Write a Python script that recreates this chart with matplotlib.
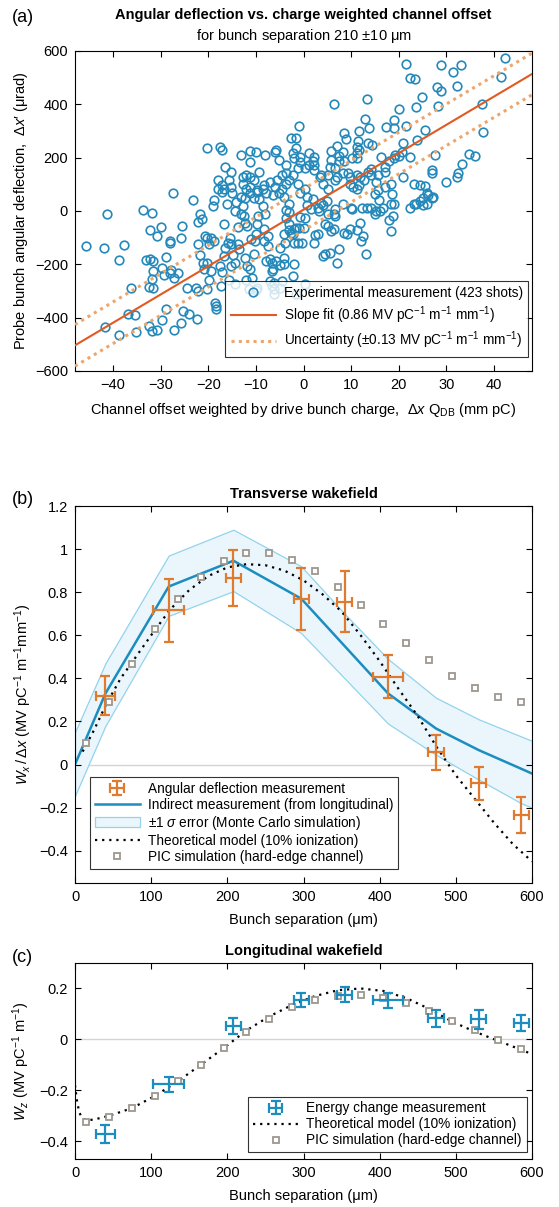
import numpy as np
import matplotlib.pyplot as plt
from matplotlib.ticker import FuncFormatter

plt.rcParams['font.family'] = ['Liberation Sans', 'DejaVu Sans']
plt.rcParams['mathtext.fontset'] = 'custom'
plt.rcParams['mathtext.rm'] = 'Liberation Sans'
plt.rcParams['mathtext.it'] = 'Liberation Sans:italic'
plt.rcParams['mathtext.bf'] = 'Liberation Sans:bold'
plt.rcParams['axes.unicode_minus'] = True

# ---------------- panel (a): scatter ----------------
scat_x = np.array([
    42.3, 41.5, 37.4, 37.8, 28.8, 33.1, 31.4, 32.3, 28.8, 28.1, 28.2, 24.8, 23.7, 25.5, 23.9, 22.4,
    23.4, 21.5, 21.5, 22.4, 20.9, 20.0, 19.1, 19.1, 17.4, 13.3, 13.0, 13.8, 11.6, 13.5, 14.3, 11.4,
    11.2, 6.4, -0.9, 8.6, 9.0, 27.7, 29.9, 32.2, 32.5, 33.4, 34.8, 36.1, 26.9, 27.0, 23.2, 24.4,
    25.5, 25.9, 26.2, 27.3, 25.1, 23.6, 20.6, 19.2, 20.0, 19.1, 17.9, 16.2, 17.2, 17.2, 15.7, 14.2,
    14.2, 15.3, 18.3, 17.2, 20.9, 18.6, 15.7, 13.5, 12.7, 11.9, 11.2, 11.6, 10.5, 10.1, 11.2, 11.2,
    11.6, 8.2, 8.6, 7.5, 7.5, 7.1, 5.8, 5.8, 5.6, 6.7, 5.2, 6.7, 7.1, 8.2, 9.4, 9.7,
    9.7, 11.2, 5.2, 4.1, 3.7, 3.4, 2.2, 2.2, 1.9, 2.2, 1.1, 1.1, 0.4, -0.7, -0.7, -2.1,
    -2.2, -1.1, -2.2, -3.7, -3.7, -5.2, -6.0, -2.6, -1.5, -1.5, -3.0, -1.1, -4.5, -5.6, -7.1, -6.0,
    -4.5, -5.2, -4.1, -3.7, -0.7, 0.4, 0.7, -9.3, -10.5, -11.2, -12.0, -12.7, -12.7, -11.2, -12.0, -11.2,
    -9.7, -8.6, -8.2, -7.9, -6.4, -10.5, -13.1, -14.2, -12.3, -9.9, -8.1, -5.8, -11.2, -11.2, -9.7, -18.0,
    -17.2, -18.0, -16.8, -15.7, -15.3, -16.5, -17.6, -17.1, -20.3, -13.1, -15.3, -15.0, -17.2, -18.7, -23.2, -27.5,
    -45.6, -42.0, -41.3, -41.7, -38.7, -37.7, -36.2, -36.8, -35.3, -35.1, -38.7, -33.8, -31.8, -32.2, -30.8, -29.9,
    -33.1, -32.2, -31.6, -31.6, -31.8, -32.4, -31.6, -32.5, -31.8, -30.8, -29.8, -29.3, -28.8, -28.1, -28.1, -27.8,
    -28.1, -27.3, -28.8, -29.8, -27.1, -25.8, -25.6, -26.3, -25.4, -24.0, -25.8, -24.5, -22.4, -22.1, -21.7, -21.3,
    -22.1, -21.7, -21.2, -21.0, -22.1, -22.6, -20.6, -20.2, -19.4, -19.8, -18.8, -20.2, -19.4, -19.8, -20.2, -19.1,
    -18.5, -18.3, -18.3, -17.3, -17.2, -17.5, -16.8, -16.8, -16.1, -16.5, -15.9, -15.4, -15.2, -15.7, -14.4, -15.2,
    -14.3, -14.9, -13.6, -13.8, -13.8, -14.4, -13.2, -12.7, -12.5, -12.3, -11.8, -12.3, -11.9, -11.2, -10.8, -11.4,
    -12.1, -10.3, -10.2, -11.0, -10.0, -9.7, -9.5, -8.6, -9.3, -8.1, -8.2, -7.5, -7.5, -8.4, -7.9, -7.1,
    -6.7, -6.4, -5.8, -6.7, -7.1, -6.1, -6.7, -6.1, -9.7, -9.9, -6.1, -4.9, -4.5, -4.0, -4.9, -4.1,
    -4.9, -3.9, -4.1, -3.0, -2.6, -2.2, -1.9, -1.5, -0.9, -3.1, -3.6, -3.1, -3.7, -3.0, -1.9, -1.1,
    -0.4, 0.0, -0.7, 0.4, 0.4, -2.2, -2.1, -1.5, 2.2, 3.0, 2.5, 0.7, 1.5, 1.9, 3.0, 3.2,
    3.7, 4.1, 4.9, 5.1, 6.4, 6.7, 4.5, 5.2, 6.4, 5.8, 6.7, 4.1, 4.6, 5.6, 7.1, 7.5,
    8.6, 9.1, 9.7, 10.1, 9.9, 8.2, 11.2, 12.0, 12.6, 13.1, 11.9, 12.3, 13.3, 14.2, 15.0, 15.3,
    16.1, 16.8, 18.0, 18.7, 18.3, 15.0, 15.9, 18.3, 19.1, 22.4, 23.2, 24.4, 25.2, 25.9, 26.9,
])
scat_y = np.array([
    575, 502, 401, 296, 546, 547, 521, 468, 449, 464, 395, 428, 391, 304, 267, 499,
    495, 553, 317, 204, 254, 382, 342, 311, 316, 421, 345, 313, 300, 254, 248, 263,
    241, 401, 320, 292, 269, 211, 109, 128, 141, 176, 213, 208, 144, 153, 103, 97,
    94, 69, 59, 52, 47, 28, 223, 211, 208, 200, 188, 204, 166, 147, 135, 157,
    135, 109, 103, 91, 126, 63, 80, 147, 116, 128, 135, 99, 91, 198, 198, 216,
    229, 222, 187, 187, 207, 245, 225, 191, 166, 160, 135, 116, 126, 142, 142, 128,
    103, 84, 84, 103, 135, 128, 153, 172, 189, 204, 216, 172, 160, 182, 204, 198,
    216, 163, 135, 142, 172, 191, 222, 273, 273, 235, 116, 103, 135, 116, 109, 91,
    84, 66, 53, 103, 66, 84, 53, 147, 116, 128, 135, 128, 103, 91, 84, 66,
    72, 84, 97, 66, 60, 47, 53, 34, 47, 222, 210, 229, 226, 185, 78, 116,
    97, 84, 82, 116, 147, 166, 241, 229, 235, 210, 91, 66, 72, 41, 41, 69,
    -131, -137, -12, -434, -185, -127, -287, -387, -391, -454, -465, 3, -6, -72, -94, -60,
    -184, -179, -187, -225, -256, -285, -290, -431, -450, -446, -215, -240, -172, -112, -119, -222,
    -231, -250, -369, -409, -446, -102, -56, -231, -375, -387, -419, -287, -406, -40, -12, -31,
    -125, -165, -194, -219, -300, -287, -94, -100, -100, -125, -112, -194, -225, -259, -294, 19,
    -344, -356, -369, -281, -227, -206, -169, -50, 27, -137, -119, -100, -125, -260, -275, -206,
    -194, -166, -144, -125, -59, 0, -12, 19, -19, -44, -56, -178, -206, -219, -250, -291,
    -260, -163, -112, -106, -87, -50, -19, 19, 44, -12, -69, -94, -131, -112, -187, -181,
    -194, -219, -187, -225, -262, -269, -281, -294, -290, -297, -312, -287, -262, -200, -203, -175,
    -137, -119, -87, -71, -81, -87, -69, -62, -62, -50, -25, -3, 3, 25, -119, -119,
    -121, -62, -22, -25, -275, -244, -200, -312, -119, -87, -90, 22, 6, 44, 12, 0,
    31, 22, 37, -12, -12, 6, -50, -56, -69, -75, -19, -169, -162, -156, -194, -144,
    -81, -87, -69, 6, 12, 25, -72, -112, -94, -160, -44, 12, 12, 12, -12, 0,
    0, 12, -35, -19, -75, 62, 40, 25, 28, 12, 25, 37, 22, 28, 50,
])
fit_slope = 10.6      # urad per (mm pC)
fit_icpt = 5.0
unc_offset = 78.0

# ---------------- panel (b) ----------------
meas_x = [40, 123, 208, 297, 354, 411, 474, 530, 586]
meas_xerr = [12, 20, 10, 10, 10, 20, 10, 10, 10]
defl_y = [0.32, 0.715, 0.865, 0.767, 0.756, 0.408, 0.056, -0.088, -0.236]
defl_yerr = [0.09, 0.144, 0.13, 0.143, 0.143, 0.10, 0.08, 0.075, 0.083]

indir_x = [0, 40, 123, 208, 297, 354, 411, 474, 530, 586, 600]
indir_y = [0.0, 0.33, 0.826, 0.946, 0.77, 0.55, 0.33, 0.167, 0.067, -0.02, -0.042]
band_hi = [0.15, 0.47, 0.97, 1.09, 0.92, 0.70, 0.49, 0.31, 0.21, 0.13, 0.11]
band_lo = [-0.145, 0.18, 0.69, 0.805, 0.61, 0.40, 0.19, 0.045, -0.07, -0.18, -0.2]

theo_tx = [10, 25, 41, 60, 78, 100, 125, 150, 175, 200, 225, 250, 275, 300, 325,
           350, 375, 400, 425, 450, 475, 500, 525, 550, 575, 600]
theo_ty = [0.06, 0.16, 0.28, 0.40, 0.49, 0.60, 0.72, 0.81, 0.875, 0.915, 0.93, 0.925, 0.90, 0.855, 0.79,
           0.71, 0.60, 0.48, 0.35, 0.225, 0.08, -0.05, -0.16, -0.27, -0.37, -0.45]

pic_x = [15, 45, 75, 105, 135, 165, 195, 225, 255, 285, 315, 345, 375, 405, 435, 465, 495, 525, 555, 585]
pic_ty = [0.098, 0.288, 0.467, 0.628, 0.768, 0.872, 0.945, 0.98, 0.98, 0.949, 0.897, 0.824, 0.739, 0.652,
          0.563, 0.485, 0.412, 0.355, 0.315, 0.288]

# ---------------- panel (c) ----------------
energy_y = [-0.371, -0.177, 0.053, 0.155, 0.175, 0.153, 0.083, 0.079, 0.064]
energy_yerr = [0.036, 0.031, 0.03, 0.028, 0.029, 0.03, 0.033, 0.038, 0.033]

theo_lx = [0, 3, 6, 10, 15, 25, 45, 75, 105, 135, 165, 195, 225, 255, 285, 315, 345, 375,
           405, 435, 465, 495, 525, 555, 585, 600]
theo_ly = [-0.18, -0.25, -0.29, -0.31, -0.318, -0.315, -0.30, -0.27, -0.222, -0.165, -0.10, -0.035,
           0.035, 0.09, 0.135, 0.17, 0.193, 0.2, 0.19, 0.162, 0.12, 0.07, 0.03, -0.005, -0.04, -0.058]
pic_ly = [-0.325, -0.304, -0.271, -0.223, -0.164, -0.101, -0.035, 0.029, 0.081, 0.126, 0.155, 0.171,
          0.175, 0.162, 0.142, 0.11, 0.074, 0.035, -0.003, -0.039]

# colours
c_scat = '#2489ba'
c_fit = '#e05a22'
c_unc = '#eda56c'
c_orange = '#e07a2e'
c_blue = '#1c8dbf'
c_band_face = '#eaf6fc'
c_band_edge = '#93d3ec'
c_pic = '#9d978f'
c_zero = '#d4d4d4'

FS = 10.5
LFS = 9.8
W, H = 559, 1207


def frac(left, top, right, bottom):
    return [left / W, 1 - bottom / H, (right - left) / W, (bottom - top) / H]


def style_axes(ax):
    ax.tick_params(direction='in', top=True, right=True, length=4, width=0.8,
                   labelsize=FS, pad=5)
    for s in ax.spines.values():
        s.set_linewidth(0.8)
        s.set_color('black')


def fmt(v, pos):
    s = '%g' % round(v, 3)
    return s.replace('-', '\u2212')


def boxed(lg):
    lg.get_frame().set_edgecolor('black')
    lg.get_frame().set_linewidth(0.8)


fig = plt.figure(figsize=(W / 100, H / 100), dpi=100)

# ========== (a) ==========
axa = fig.add_axes(frac(75, 51, 532, 371))
xx = np.array([-48, 48])
axa.plot(scat_x, scat_y, 'o', ms=6.2, mfc='none', mec=c_scat, mew=1.2,
         label='Experimental measurement (423 shots)', zorder=2)
axa.plot(xx, fit_slope * xx + fit_icpt, '-', color=c_fit, lw=1.5,
         label='Slope fit (0.86 MV pC$^{-1}$ m$^{-1}$ mm$^{-1}$)', zorder=3)
axa.plot(xx, fit_slope * xx + fit_icpt + unc_offset, color=c_unc, lw=2.2, ls=(0, (1, 1.4)),
         label='Uncertainty ($\\pm$0.13 MV pC$^{-1}$ m$^{-1}$ mm$^{-1}$)', zorder=3)
axa.plot(xx, fit_slope * xx + fit_icpt - unc_offset, color=c_unc, lw=2.2, ls=(0, (1, 1.4)), zorder=3)
axa.set_xlim(-48, 48)
axa.set_ylim(-600, 600)
axa.set_xticks(np.arange(-40, 41, 10))
axa.set_yticks(np.arange(-600, 601, 200))
axa.xaxis.set_major_formatter(FuncFormatter(fmt))
axa.yaxis.set_major_formatter(FuncFormatter(fmt))
style_axes(axa)
axa.set_xlabel('Channel offset weighted by drive bunch charge,  $\\Delta x$ Q$_{\\rm DB}$ (mm pC)',
               fontsize=FS)
axa.set_ylabel('Probe bunch angular deflection,  $\\Delta x$\u2032 (μrad)', fontsize=FS)
axa.yaxis.set_label_coords(-0.098, 0.5)
axa.xaxis.set_label_coords(0.5, -0.095)
lg = axa.legend(loc='lower right', bbox_to_anchor=(0.992, 0.044), borderaxespad=0,
                fontsize=LFS, frameon=True, fancybox=False, handlelength=3.3,
                handletextpad=0.6, borderpad=0.4, labelspacing=0.3)
boxed(lg)
fig.text(303.5 / W, 1 - 15 / H, 'Angular deflection vs. charge weighted channel offset',
         ha='center', va='center', fontsize=FS, fontweight='bold')
fig.text(303.5 / W, 1 - 36 / H, 'for bunch separation 210 $\\pm$10 μm',
         ha='center', va='center', fontsize=FS)
fig.text(12 / W, 1 - 18 / H, '(a)', ha='left', va='center', fontsize=13)

# ========== (b) ==========
axb = fig.add_axes(frac(75, 506, 532, 883))
axb.axhline(0, color=c_zero, lw=1, zorder=0)
axb.fill_between(indir_x, band_lo, band_hi, facecolor=c_band_face, edgecolor=c_band_edge,
                 lw=0.9, zorder=1, label='$\\pm$1 $\\sigma$ error (Monte Carlo simulation)')
axb.plot(indir_x, indir_y, '-', color=c_blue, lw=1.8, zorder=2,
         label='Indirect measurement (from longitudinal)')
axb.plot(theo_tx, theo_ty, color='black', lw=1.6, ls=(0, (1, 2.2)), zorder=3,
         label='Theoretical model (10% ionization)')
axb.plot(pic_x, pic_ty, 's', ms=5, mfc='white', mec=c_pic, mew=1.3, zorder=3,
         label='PIC simulation (hard-edge channel)')
axb.errorbar(meas_x, defl_y, xerr=meas_xerr, yerr=defl_yerr, fmt='none', ecolor=c_orange,
             elinewidth=1.6, capsize=3.3, capthick=1.6, zorder=4,
             label='Angular deflection measurement')
axb.set_xlim(0, 600)
axb.set_ylim(-0.55, 1.2)
axb.set_xticks(np.arange(0, 601, 100))
axb.set_yticks(np.arange(-0.4, 1.21, 0.2))
axb.yaxis.set_major_formatter(FuncFormatter(fmt))
style_axes(axb)
axb.set_xlabel('Bunch separation (μm)', fontsize=FS)
axb.set_ylabel('$W_x\\,/\\,\\Delta x$ (MV pC$^{-1}$ m$^{-1}$mm$^{-1}$)', fontsize=FS)
axb.yaxis.set_label_coords(-0.09, 0.5)
axb.xaxis.set_label_coords(0.5, -0.08)
axb.set_title('Transverse wakefield', fontsize=FS, fontweight='bold', pad=6)
h, l = axb.get_legend_handles_labels()
order = [l.index('Angular deflection measurement'),
         l.index('Indirect measurement (from longitudinal)'),
         l.index('$\\pm$1 $\\sigma$ error (Monte Carlo simulation)'),
         l.index('Theoretical model (10% ionization)'),
         l.index('PIC simulation (hard-edge channel)')]
lg = axb.legend([h[i] for i in order], [l[i] for i in order], loc='lower left',
                bbox_to_anchor=(0.033, 0.038), borderaxespad=0, fontsize=LFS, frameon=True,
                fancybox=False, handlelength=3.3, handletextpad=0.6, borderpad=0.35,
                labelspacing=0.15)
boxed(lg)
fig.text(12 / W, 1 - 500 / H, '(b)', ha='left', va='center', fontsize=13)

# ========== (c) ==========
axc = fig.add_axes(frac(75, 963, 532, 1159))
axc.axhline(0, color=c_zero, lw=1, zorder=0)
axc.plot(theo_lx, theo_ly, color='black', lw=1.6, ls=(0, (1, 2.2)), zorder=2,
         label='Theoretical model (10% ionization)')
axc.plot(pic_x, pic_ly, 's', ms=5, mfc='white', mec=c_pic, mew=1.3, zorder=3,
         label='PIC simulation (hard-edge channel)')
axc.errorbar(meas_x, energy_y, xerr=meas_xerr, yerr=energy_yerr, fmt='none', ecolor=c_blue,
             elinewidth=1.6, capsize=3.3, capthick=1.6, zorder=4,
             label='Energy change measurement')
axc.set_xlim(0, 600)
axc.set_ylim(-0.47, 0.3)
axc.set_xticks(np.arange(0, 601, 100))
axc.set_yticks([-0.4, -0.2, 0, 0.2])
axc.yaxis.set_major_formatter(FuncFormatter(fmt))
style_axes(axc)
axc.set_xlabel('Bunch separation (μm)', fontsize=FS)
axc.set_ylabel('$W_z$ (MV pC$^{-1}$ m$^{-1}$)', fontsize=FS)
axc.yaxis.set_label_coords(-0.094, 0.5)
axc.xaxis.set_label_coords(0.5, -0.155)
axc.set_title('Longitudinal wakefield', fontsize=FS, fontweight='bold', pad=6)
h, l = axc.get_legend_handles_labels()
order = [l.index('Energy change measurement'),
         l.index('Theoretical model (10% ionization)'),
         l.index('PIC simulation (hard-edge channel)')]
lg = axc.legend([h[i] for i in order], [l[i] for i in order], loc='lower right',
                bbox_to_anchor=(0.988, 0.035), borderaxespad=0, fontsize=LFS, frameon=True,
                fancybox=False, handlelength=3.3, handletextpad=0.6, borderpad=0.35,
                labelspacing=0.15)
boxed(lg)
fig.text(12 / W, 1 - 957 / H, '(c)', ha='left', va='center', fontsize=13)

fig.savefig('out.png', dpi=100)
